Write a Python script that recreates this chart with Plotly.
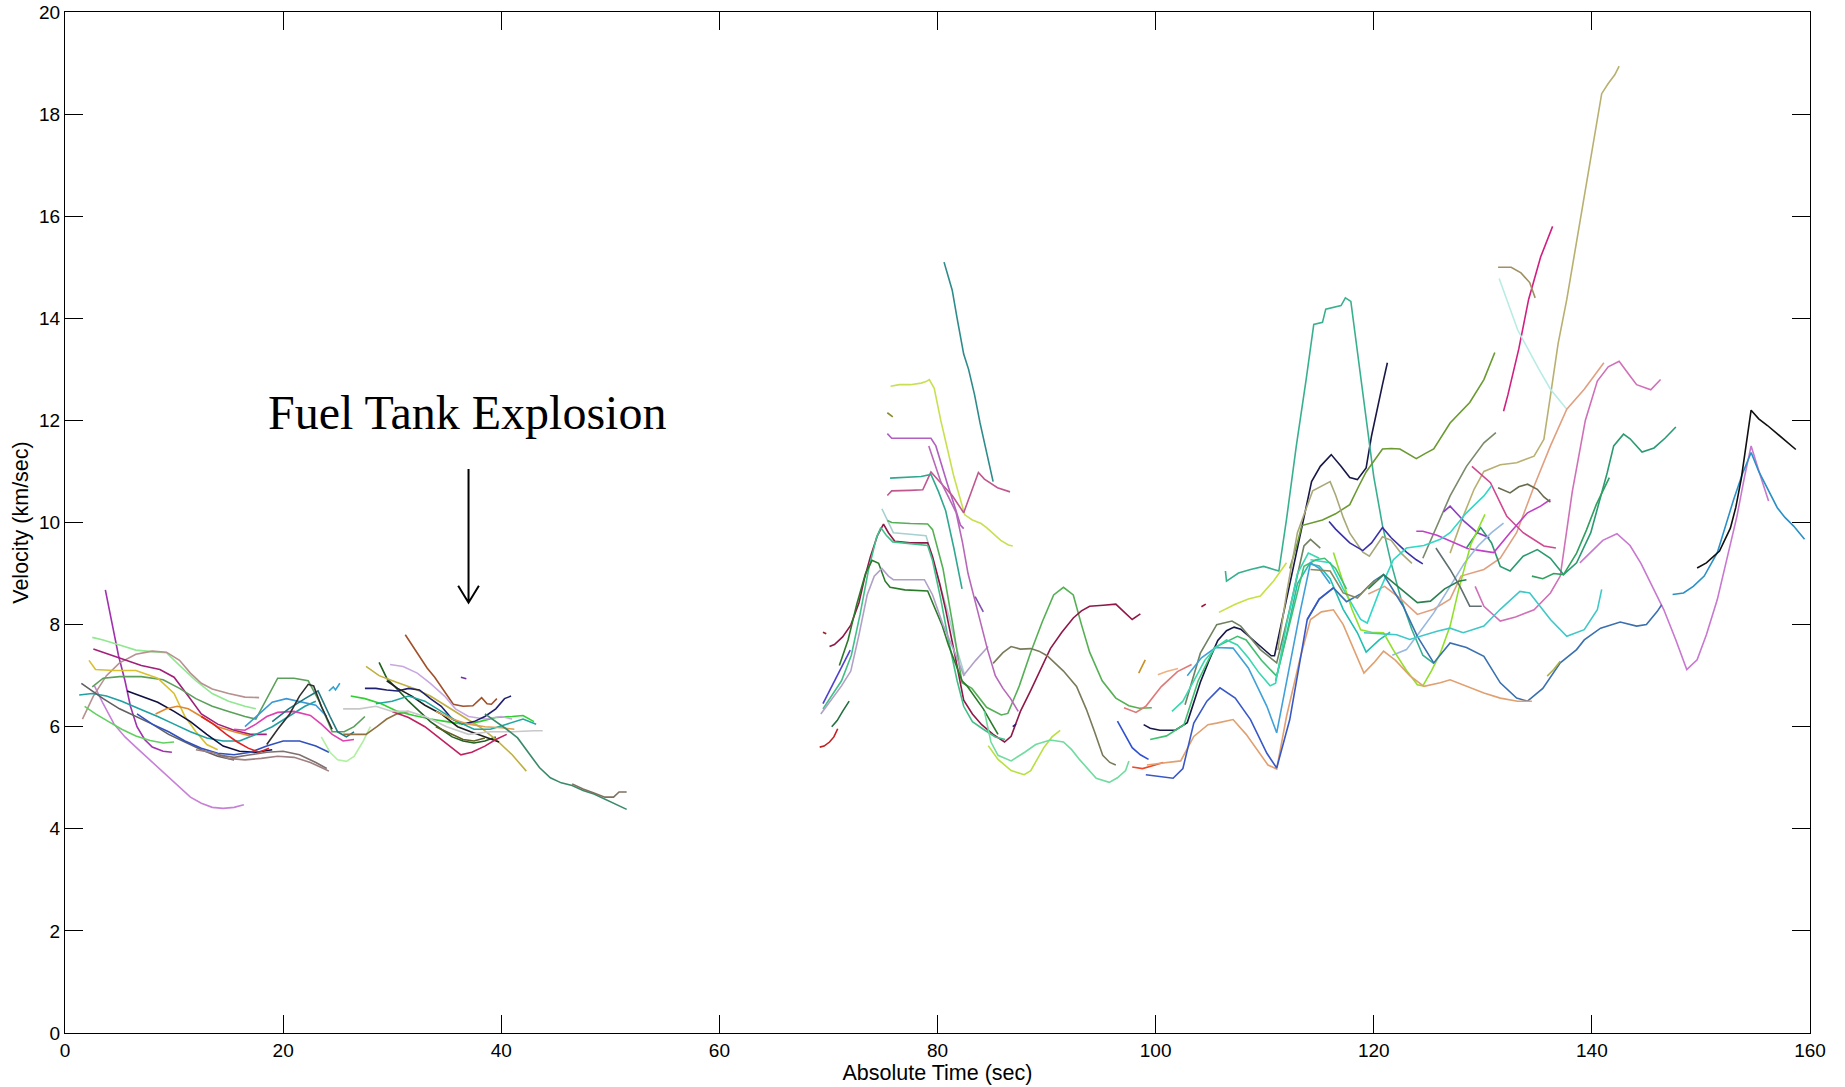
import plotly.graph_objects as go

# ---------------- data: each track is a list of [time (s), velocity (km/s)] ----------------
early_tracks = [
    [[3.7,8.68],[4.3,8.0],[4.9,7.4],[5.5,6.9],[6.0,6.4],[6.6,6.0],[7.3,5.75],[8.0,5.6],[9.0,5.52],[9.8,5.5]],
    [[2.7,6.8],[3.5,6.45],[4.5,6.05],[5.5,5.8],[6.5,5.6],[7.5,5.4],[8.5,5.2],[9.5,5.0],[10.5,4.8],[11.5,4.62],[12.5,4.5],[13.5,4.42],[14.5,4.4],[15.5,4.42],[16.4,4.47]],
    [[2.5,7.75],[3.5,7.7],[5,7.6],[6.5,7.5],[8,7.47],[9.3,7.45],[10.5,7.2],[12,6.9],[13.5,6.65],[15,6.5],[16.5,6.4],[17.5,6.35]],
    [[1.6,6.15],[2.6,6.6],[3.8,7.0],[5,7.25],[6.5,7.42],[8,7.48],[9.3,7.46],[10.5,7.3],[11.5,7.05],[12.5,6.85],[13.5,6.74],[15,6.65],[16.5,6.58],[17.8,6.57]],
    [[2.6,7.52],[4,7.42],[5.5,7.3],[7,7.2],[8.7,7.12],[10,6.97],[11.3,6.6],[12.5,6.25],[14,6.05],[15.5,5.93],[17,5.85],[18.5,5.85]],
    [[2.5,6.78],[3.5,6.95],[5,6.98],[7,6.98],[9,6.92],[10.5,6.75],[12,6.55],[13.5,6.4],[15,6.3],[16.5,6.2],[17.5,6.15],[18.5,6.55],[19.5,6.95],[21,6.95],[22.3,6.9],[23.3,6.5],[24.5,5.9],[25.6,5.9],[26.5,6.0],[27.5,6.2]],
    [[2.2,7.3],[2.8,7.12],[4.5,7.1],[6.5,7.1],[8.5,6.95],[10,6.65],[11,6.2],[12,5.9],[13,5.65],[14,5.55]],
    [[1.3,6.62],[2.5,6.65],[3.8,6.6],[5.2,6.5],[6.8,6.35],[8.5,6.2],[10,6.05],[11.5,5.9],[13,5.78],[14.5,5.72],[16,5.72],[17.5,5.85],[19,6.0],[20.5,6.2],[22,6.4],[23,6.5]],
    [[1.5,6.85],[2.5,6.7],[3.5,6.55],[5,6.35],[6.5,6.2],[8,6.05],[9.5,5.85],[11,5.7],[12.5,5.55],[14,5.42],[15.5,5.35]],
    [[1.8,6.4],[2.8,6.25],[4,6.1],[5.2,5.95],[6.5,5.82],[7.8,5.73],[9,5.68],[10,5.7]],
    [[5.7,6.7],[7,6.6],[8.5,6.48],[10,6.3],[11.5,6.1],[13,5.85],[14.5,5.62],[16,5.52],[17.5,5.5],[19,5.55]],
    [[6.6,6.25],[8,6.05],[9.5,5.9],[11,5.72],[12.5,5.58],[14,5.48],[15.5,5.45],[17,5.5],[18.5,5.62],[20,5.72],[21.5,5.72],[23,5.62],[24.2,5.5]],
    [[8.3,6.25],[9.3,6.35],[10.3,6.4],[11.3,6.35],[12.5,6.2],[14,6.0],[15.5,5.9],[17,5.82]],
    [[12.5,6.2],[13.6,6.05],[14.8,5.85],[15.8,5.7],[16.8,5.58],[17.8,5.5],[18.7,5.58]],
    [[15.5,5.95],[16.5,5.93],[17.5,6.05],[18.5,6.2],[19.5,6.28],[21,6.3],[22.5,6.22],[23.5,6.05],[24.5,5.85],[25.5,5.72],[26.5,5.75]],
    [[16.5,6.0],[17.8,6.25],[19,6.48],[20.3,6.55],[21.8,6.48],[23,6.42],[24,6.2]],
    [[19,6.1],[20.5,6.35],[22,6.55],[23.2,6.7],[24.3,6.2],[25,5.9],[25.8,5.8],[26.5,5.9]],
    [[18.5,5.65],[19.5,5.95],[20.6,6.25],[21.5,6.6],[22.3,6.83],[22.8,6.8],[23.5,6.4],[24.5,5.95]],
    [[23.5,5.8],[24.3,5.5],[25,5.35],[25.8,5.32],[26.5,5.42],[27.3,5.7],[28,6.0]],
    [[12,5.55],[13.6,5.49],[15,5.38],[16.5,5.35],[18,5.38],[19.5,5.42],[21,5.4],[22.5,5.3],[23.5,5.2],[24.2,5.13]],
    [[14,5.45],[15.5,5.4],[17,5.45],[18.5,5.5],[20,5.52],[21.5,5.45],[23,5.3],[24,5.18]],
    [[25.5,5.85],[26.5,5.85],[27.6,5.85],[28.6,6.0],[29.5,6.15],[30.4,6.25],[31.5,6.3]],
    [[26.2,6.6],[27.5,6.55],[29,6.45],[30.5,6.3],[32,6.22],[33.5,6.15],[35,6.1],[36.5,6.05],[38,6.1],[39.5,6.18],[41,6.2],[42,6.22],[43,6.1]],
    [[28.8,7.26],[29.5,6.95],[30.4,6.75],[31.5,6.5],[32.5,6.3],[33.5,6.1],[34.5,5.95],[35.5,5.8],[36.5,5.72],[37.5,5.68],[38.5,5.72],[39.5,5.8]],
    [[27.6,7.18],[28.8,7.0],[30.4,6.87],[32,6.75],[33.5,6.6],[35,6.4],[36.5,6.2],[38,6.0],[39.5,5.75],[41,5.45],[42.3,5.13]],
    [[31.2,7.8],[31.8,7.6],[32.5,7.36],[33.2,7.15],[33.9,6.97],[34.6,6.75],[35.6,6.44],[36.5,6.4],[37.4,6.41],[38.2,6.57],[38.7,6.45],[39.1,6.44],[39.6,6.55]],
    [[29.8,7.22],[31,7.18],[32.3,7.05],[33.5,6.85],[34.8,6.6],[35.8,6.35],[37,6.2],[38.5,6.15],[40,6.2],[41,6.15]],
    [[27.5,6.75],[28.5,6.75],[29.5,6.72],[30.5,6.7],[31.5,6.75],[32.5,6.72],[33.5,6.55],[34.5,6.4],[35.5,6.15],[36.5,6.05],[37.5,6.1],[38.5,6.2],[39.5,6.35],[40.3,6.55],[40.9,6.6]],
    [[29.5,6.9],[30.5,6.75],[31.8,6.6],[33,6.42],[34.5,6.25],[36,6.0],[37.2,5.9],[38.3,5.82],[39.8,5.7]],
    [[30,6.3],[31.5,6.18],[33,6.0],[34.5,5.75],[35.6,5.55],[36.3,5.45],[37.3,5.5],[38.5,5.62],[39.5,5.75],[40.5,5.85]],
    [[28.5,6.45],[30,6.5],[31.5,6.6],[33,6.5],[34.5,6.3],[36,6.1],[37.5,5.95],[39,5.95],[40.5,6.05],[42,6.15],[43.2,6.05]],
    [[25.5,6.35],[27,6.35],[28.5,6.4],[30,6.3],[31.5,6.3],[33,6.2],[35,6.0],[37,5.85],[39,5.9],[41,5.9],[43,5.92],[43.8,5.92]],
    [[34,6.3],[35.5,6.15],[37,6.05],[38.5,6.0],[40,5.98],[41.2,5.95]],
    [[34,6.0],[35.5,5.85],[36.5,5.75],[37.5,5.72],[38.5,5.78]],
    [[38.5,6.25],[39.5,6.1],[40.5,5.95],[41.5,5.78],[42.5,5.5],[43.5,5.2],[44.5,5.0],[45.5,4.9],[46.5,4.85],[47.5,4.75],[48.5,4.68],[49.5,4.58],[50.5,4.47],[51.5,4.38]],
    [[46.5,4.88],[47.5,4.78],[48.5,4.7],[49.5,4.62],[50.3,4.62],[50.8,4.72],[51.5,4.72]],
    [[36.3,6.97],[36.8,6.94]],
    [[24.2,6.7],[24.6,6.78],[24.8,6.72],[25.2,6.85]],
]
early_colors = [
    "#a030b0", "#c880d8", "#90e890", "#b89090", "#a0207a", "#5aa05a", "#d8c030", "#20a0a0",
    "#606060", "#60d060", "#101040", "#3050c0", "#e08830", "#e02020", "#e040b0", "#3a98d8",
    "#207880", "#303030", "#b0f0a0", "#a08080", "#807070", "#907040", "#30d030", "#206020",
    "#c0b040", "#a0502a", "#c8a8e0", "#202070", "#202020", "#c02060", "#20a8a0", "#c8c8c8",
    "#e0a050", "#606020", "#3a8a6a", "#807060", "#7030a0", "#30a0d0",
]

mid_tracks = [
    [[80.6,15.1],[81.0,14.8],[81.35,14.55],[81.8,14.0],[82.4,13.3],[82.85,13.0],[83.4,12.5],[83.9,11.95],[84.5,11.35],[85.1,10.8]],
    [[75.7,12.67],[76.5,12.7],[77.5,12.7],[78.5,12.73],[78.95,12.76],[79.25,12.8],[79.7,12.63],[80.3,12.0],[80.9,11.45],[81.5,10.9],[82.1,10.45],[82.5,10.15],[83.2,10.05],[84,9.98],[84.5,9.9],[85,9.8],[85.8,9.65],[86.5,9.56],[86.9,9.54]],
    [[75.4,12.15],[75.9,12.07]],
    [[75.4,11.74],[75.8,11.65],[77,11.65],[78.5,11.65],[79.4,11.65],[79.85,11.5],[80.4,11.1],[80.9,10.76],[81.6,10.3],[82.1,9.95],[82.4,9.88]],
    [[75.4,10.53],[75.8,10.62],[77.5,10.63],[78.65,10.64],[79.1,10.85],[79.4,10.99],[80.2,10.8],[81.35,10.53],[82.4,10.19],[83.1,10.6],[83.75,10.98],[84.3,10.85],[84.8,10.78],[85.5,10.68],[86.65,10.6]],
    [[75.65,10.87],[77,10.88],[78.5,10.9],[79.4,10.94],[80.1,10.6],[80.75,10.23],[81.5,9.5],[82.25,8.7]],
    [[74.9,10.27],[75.35,10.08],[75.95,9.8],[77.5,9.77],[78.95,9.74],[79.4,9.41],[80.2,8.8],[81.0,8.2],[81.8,7.5],[82.5,7.0]],
    [[75.4,10.04],[75.8,10.0],[77.5,9.98],[79.1,9.97],[79.55,9.86],[80.5,9.1],[81.4,8.0],[82.25,6.86],[83.15,6.75],[84.5,6.38],[85.85,6.23],[86.45,6.26],[87.5,6.8],[88.55,7.46],[89.6,8.05],[90.65,8.58],[91.55,8.73],[92.45,8.58],[93.2,8.0],[93.95,7.46],[95.1,6.9],[96.35,6.56],[97.55,6.41],[98.5,6.36],[99.65,6.37]],
    [[70.1,7.57],[70.55,7.61],[71.3,7.76],[72.05,7.99],[72.8,8.43],[73.3,8.9],[73.85,9.33],[74.5,9.75],[75.05,9.97],[75.5,9.8],[76.1,9.63],[77.5,9.6],[79.1,9.6],[79.55,9.33],[80.2,8.8],[80.75,8.29],[81.6,7.4],[82.4,6.52],[83.2,6.25],[84.05,6.04],[85.1,5.85],[86.15,5.7],[86.75,5.81],[87.6,6.3],[88.55,6.71],[89.5,7.15],[90.35,7.53],[91.4,7.85],[92.45,8.13],[93.2,8.27],[93.95,8.36],[95.2,8.38],[96.35,8.4],[97.1,8.25],[97.85,8.1],[98.6,8.21]],
    [[69.5,6.35],[70.3,6.6],[71.2,6.9],[72.1,7.4],[72.9,8.2],[73.7,9.1],[74.4,9.7],[74.8,9.9],[75.3,9.75],[75.9,9.62],[77.5,9.58],[79.1,9.55],[79.55,9.25],[80.3,8.5],[81.0,7.7],[81.8,6.9],[82.4,6.4],[83.2,6.1],[84.2,5.95],[85.3,5.8],[86.2,5.75]],
    [[71.0,7.2],[71.8,7.7],[72.6,8.4],[73.4,9.0],[74.0,9.26],[74.6,9.2],[75.2,8.85],[75.65,8.73],[77,8.68],[79.1,8.66],[79.8,8.3],[80.4,8.0],[81,7.6],[82.25,6.9],[82.7,6.8],[83.2,6.65],[84.2,6.35],[85.0,6.05],[85.55,5.85]],
    [[69.3,6.25],[70.3,6.55],[71.2,6.8],[72.05,7.09],[72.8,7.8],[73.55,8.58],[74.2,8.95],[74.9,9.1],[75.5,8.95],[75.95,8.88],[77.5,8.88],[78.8,8.88],[79.55,8.58],[80.5,8.0],[81.5,7.5],[82.4,7.01],[83.5,7.3],[84.65,7.57]],
    [[69.5,7.85],[69.8,7.82]],
    [[69.2,5.6],[69.6,5.62],[70.1,5.7],[70.5,5.8],[70.85,5.96]],
    [[70.3,6.0],[70.8,6.12],[71.3,6.3],[71.9,6.5]],
    [[69.5,6.45],[70.2,6.75],[70.9,7.05],[71.5,7.3],[72.0,7.5]],
    [[79.2,11.5],[79.8,11.1],[80.3,10.8],[81.0,10.5],[81.7,10.2],[82.3,9.6],[82.8,9.0],[83.4,8.5],[84.0,8.0],[84.6,7.5],[85.3,7.0],[86.0,6.75],[86.7,6.55],[87.4,6.3]],
    [[83.45,8.55],[83.8,8.4],[84.2,8.25]],
    [[84.65,5.63],[85.55,5.36],[86.75,5.14],[87.95,5.06],[88.55,5.14],[89.2,5.4],[89.75,5.59],[90.5,5.8],[91.25,5.93]],
    [[84.3,6.3],[84.9,5.7],[85.55,5.44],[86.75,5.33],[88,5.5],[89,5.65],[90.35,5.74],[91.55,5.7],[92.3,5.55],[93.05,5.35],[94.55,4.99],[95.75,4.91],[96.5,5.0],[97.25,5.14],[97.55,5.33]],
    [[85.1,7.24],[86,7.45],[86.75,7.57],[87.6,7.52],[88.55,7.53],[89.3,7.48],[90.05,7.39],[91.55,7.09],[92.75,6.79],[93.65,6.34],[94.4,5.9],[95.15,5.44],[95.8,5.3],[96.35,5.25]],
    [[86.9,6.0],[87.2,6.05]],
]
mid_colors = [
    "#2e8b8b", "#c8e050", "#8a8a30", "#b060c0", "#c05890", "#30a890", "#a8d0d0", "#55b055",
    "#901848", "#40c088", "#2a7a2a", "#b0a0c8", "#a02020", "#c02020", "#207040", "#5040d0",
    "#b868b8", "#8050b0", "#b8e040", "#70dca0", "#7a7a5a", "#202080",
]

late_tracks = [
    [[97.1,6.37],[98.2,6.28],[99.1,6.4],[100.5,6.78],[102,7.08],[103.3,7.22]],
    [[98.45,7.05],[98.8,7.2],[99.05,7.31]],
    [[96.5,6.11],[97.25,5.81],[97.85,5.59],[98.6,5.45],[99.35,5.36]],
    [[97.85,5.21],[98.8,5.18],[99.95,5.25],[100.7,5.3]],
    [[98.9,6.04],[99.5,5.97],[100.4,5.93],[101.8,5.93],[102.9,6.08],[103.5,6.5],[104.1,6.87],[104.9,7.3],[105.7,7.69],[106.5,7.88],[107.2,7.95],[107.8,7.91],[109.2,7.65],[110.6,7.39],[110.9,7.39],[111.8,8.3],[112.7,9.2],[113.6,10.06],[114.3,10.8],[115.1,11.1],[116.1,11.33],[117,11.1],[117.8,10.88],[118.5,10.84],[119.3,11.07],[119.8,11.7],[120.2,12.12],[120.8,12.7],[121.25,13.13]],
    [[106.4,9.05],[106.5,8.85],[107.6,9.01],[108.7,9.08],[109.9,9.14],[111.3,9.05],[112.0,10.06],[112.9,11.5],[113.8,12.8],[114.5,13.88],[115.3,13.92],[115.6,14.18],[117.0,14.25],[117.4,14.4],[117.9,14.33],[118.6,13.2],[119.3,11.97],[120.0,10.9],[120.8,9.94],[121.6,9.2],[122.5,8.5],[123.5,7.9],[124.5,7.4],[125.5,7.24]],
    [[112.3,9.1],[113.0,9.6],[113.4,9.94],[114.1,9.98],[115.3,10.05],[116.5,10.17],[117.8,10.35],[118.6,10.7],[119.3,10.99],[120.8,11.44],[121.6,11.45],[122.4,11.44],[123.9,11.25],[124.7,11.35],[125.5,11.44],[127.0,11.95],[128.8,12.35],[130.1,12.8],[131.1,13.33]],
    [[111.2,7.5],[112,8.6],[113,9.8],[114.4,10.62],[116.0,10.8],[116.5,10.54],[117.2,10.1],[117.8,9.79],[119.0,9.42],[119.6,9.34],[120.8,9.72],[121.6,9.65],[122.5,9.4],[123.5,9.2]],
    [[127.0,9.4],[128.2,10.12],[129.2,10.65],[130.1,11.0],[131.6,11.13],[133.1,11.17],[134.7,11.3],[135.6,11.63],[136.2,12.48],[136.9,13.5],[137.7,14.37],[138.6,15.5],[139.6,16.8],[140.5,17.9],[140.9,18.4],[141.5,18.6],[142.1,18.77],[142.5,18.94]],
    [[124.5,9.3],[125.5,9.8],[127.0,10.52],[128.5,11.1],[130.1,11.56],[131.2,11.76]],
    [[131.9,12.18],[132.3,12.5],[133.3,13.4],[134.2,14.37],[135.3,15.2],[136.4,15.8]],
    [[131.5,14.78],[132.2,14.37],[133.2,13.77],[135.1,13.02],[136.2,12.61],[137.7,12.22]],
    [[131.4,15.0],[132.6,15.0],[133.5,14.89],[134.3,14.7],[134.8,14.4]],
    [[119.5,8.6],[121,8.75],[122.5,8.5],[124,8.2],[125.5,8.3],[127,8.5],[128.0,8.95],[130.1,9.08],[131.6,9.3],[133.1,9.8],[134.7,10.71],[136.2,11.5],[137.7,12.22],[139.3,12.61],[141.1,13.13]],
    [[129.3,8.75],[130.1,8.36],[131.6,8.07],[133.0,8.15],[134.7,8.29],[136.2,8.62],[137.1,8.95],[138.2,10.6],[139.4,12.0],[140.5,12.77],[141.5,13.05],[142.5,13.16],[143.5,12.87],[144.1,12.7],[145.4,12.6],[146.3,12.8]],
    [[138.9,9.21],[139.8,9.4],[141,9.65],[142.3,9.78],[143.5,9.55],[144.5,9.2],[145.4,8.82],[146.6,8.29],[147.7,7.7],[148.7,7.12],[149.65,7.31],[150.5,7.8],[151.5,8.49],[152.4,9.3],[153.3,10.12],[154.0,10.9],[154.6,11.5],[155.4,10.95],[156.2,10.42]],
    [[128.5,9.5],[129.8,9.9],[130.8,9.6],[131.6,9.14],[132.5,9.05],[133.7,9.34],[135.0,9.47],[136.2,9.3],[137.4,8.98],[138.6,9.21],[139.9,9.8],[140.8,10.5],[141.4,10.97],[142.0,11.5],[142.9,11.73],[143.5,11.64],[144.6,11.38],[145.7,11.46],[146.7,11.65],[147.7,11.87]],
    [[134.5,8.95],[135.5,8.9],[136.5,9.0],[137.4,8.98],[138.6,9.4],[139.5,9.85],[140.4,10.35],[141.0,10.6],[141.6,10.88]],
    [[129.0,11.1],[130.7,10.78],[132.2,10.12],[133.7,9.8],[135.6,9.54],[136.7,9.5]],
    [[123.9,9.83],[124.5,9.83],[125.8,9.75],[127,9.64],[128.6,9.49],[130.1,9.44],[131.0,9.41],[132.5,9.8],[134.1,10.19],[135.3,10.32],[136.2,10.45]],
    [[115.9,10.02],[116.5,9.87],[117.8,9.6],[119.0,9.45],[119.8,9.6],[120.8,9.9],[121.6,9.7],[123.0,9.42],[123.9,9.27],[124.5,9.19]],
    [[126.4,10.21],[127.0,10.32],[128.3,10.02],[129.5,9.8],[130.6,9.7]],
    [[114.2,9.27],[116.0,9.21],[117.2,8.7],[118.8,8.1],[119.4,8.03],[120.6,8.7],[121.8,9.27],[123.0,9.5],[124.6,9.55],[126.1,9.67],[127.0,9.8],[128.5,10.19],[130.1,10.52],[130.8,10.72]],
    [[111.0,6.9],[112.0,7.8],[113.0,8.8],[114.1,9.19],[115,9.15],[116,8.9],[117.2,8.3],[118.5,7.84],[119.3,7.46],[120.5,7.7],[121.5,7.85]],
    [[121.7,7.4],[123.0,7.51],[124.2,7.85],[125.5,8.23],[127.0,8.75],[128.3,9.2],[129.6,9.55],[130.8,9.8],[131.9,9.99]],
    [[116.3,9.41],[117.2,8.8],[118.0,8.3],[118.8,7.9],[119.8,7.85],[120.9,7.84],[121.8,7.5],[123.0,7.1],[124.0,6.82],[124.5,6.8],[125.3,7.1],[126.1,7.44],[127.0,7.97],[127.8,8.7],[128.9,9.57],[130.2,10.16]],
    [[113.9,8.1],[115,8.5],[116.3,8.72],[117.5,8.45],[118.8,8.6],[120.0,8.85],[120.9,8.98],[122.0,8.6],[122.7,8.36],[124.0,7.77],[125.5,7.25],[127.0,7.64],[128.5,7.55],[130.1,7.38],[131.6,6.86],[133.1,6.56],[134.1,6.5],[135.5,6.75],[137.1,7.25],[138.6,7.51],[139.3,7.7],[140.8,7.93],[142.6,8.05],[144.1,7.97],[145.0,8.0],[146.0,8.26],[146.4,8.39]],
    [[99.2,5.25],[100.5,5.28],[102.3,5.33],[103.5,5.81],[104.8,6.04],[105.6,6.07],[107.1,6.14],[108.3,5.85],[109.5,5.5],[110.3,5.25],[111.1,5.17],[112.0,6.2],[113.2,7.3],[114.2,8.1],[115.2,8.25],[116.3,8.29],[117.2,8.0],[118.0,7.6],[119.1,7.05],[120.0,7.25],[120.9,7.48],[122.0,7.3],[123.3,7.0],[124.6,6.79],[126.1,6.86],[127.0,6.92],[128.5,6.8],[130.1,6.66],[131.6,6.56],[133.2,6.5],[134.5,6.5]],
    [[135.9,6.99],[136.5,7.12],[137.1,7.28]],
    [[102.7,6.43],[104.1,7.44],[105.6,8.0],[107.0,8.07],[107.8,7.97],[109.6,7.51],[111.1,7.25],[112.3,8.3],[113.6,9.54],[114.2,9.67],[115.1,9.5]],
    [[99.5,5.75],[101,5.82],[102.6,6.04],[103.9,6.9],[105.4,7.55],[107.5,7.77],[108.3,7.7],[109.7,7.3],[111.1,6.99],[112.3,8.0],[113.6,9.14],[114.7,9.27],[115.5,9.3],[116.5,9.1],[117.5,8.7]],
    [[102.9,7.0],[104.2,7.35],[105.5,7.55],[107.1,7.54],[108.5,7.15],[110.2,6.4],[111.1,5.88],[112.0,6.9],[113.2,8.2],[114.2,9.21],[115,9.1],[116,8.8]],
    [[99.1,5.06],[100.4,5.03],[101.6,4.99],[102.5,5.18],[103.5,6.07],[104.7,6.5],[105.9,6.76],[107.3,6.56],[108.7,6.14],[110.2,5.48],[111.1,5.19],[112.3,6.14],[113.9,8.1],[115,8.5],[116.3,8.72]],
    [[101.5,6.3],[102.5,6.5],[103.5,6.9],[104.5,7.3],[105.5,7.55],[106.5,7.7],[107.5,7.6],[108.5,7.35],[109.5,7.05],[110.5,6.8],[111,6.85],[112,8.0],[113,9.0],[114,9.4],[115,9.3]],
    [[105.8,8.24],[107.3,8.4],[108.5,8.5],[109.6,8.56],[110.8,8.85],[112.0,9.21]],
    [[104.2,8.35],[104.6,8.4]],
    [[100.2,7.02],[101,7.08],[102.05,7.14]],
    [[119.1,7.84],[120.5,7.82],[122.1,7.8],[123.3,7.71],[124.6,7.8],[125.8,7.87],[127.0,7.93],[128.2,7.84],[130.1,7.97],[131.6,8.3],[133.4,8.65],[134.3,8.62],[136.2,8.1],[137.7,7.77],[139.3,7.9],[140.5,8.29],[140.9,8.69]],
    [[147.4,8.59],[148.4,8.62],[149.3,8.75],[150.3,8.95],[151.5,9.41],[152.2,9.9],[153.0,10.45],[153.8,10.95],[154.6,11.37],[155.3,11.0],[156.1,10.65],[157.0,10.29],[157.7,10.1],[158.5,9.93],[159.5,9.67]],
    [[149.65,9.11],[150.5,9.21],[151.7,9.44],[152.7,9.89],[153.2,10.3],[153.7,10.86],[154.6,12.2],[155.3,12.03],[156.1,11.9],[156.9,11.76],[157.8,11.6],[158.7,11.43]],
    [[119.5,8.7],[120.9,8.98],[122.2,8.75],[124.0,8.43],[125.2,8.46],[126.5,8.7],[127.8,8.85],[128.5,8.88]],
    [[125.7,9.5],[127.0,9.08],[127.9,8.75],[128.8,8.36],[129.9,8.36]],
    [[131.4,10.68],[132.5,10.58],[133.3,10.7],[134.1,10.75],[135.0,10.65],[135.6,10.5],[136.2,10.4]],
    [[114.2,9.08],[116.0,9.05],[117.2,8.62],[118.5,8.52],[119.5,8.75],[120.3,8.88]],
]
late_colors = [
    "#e07878", "#c89020", "#3050d0", "#f04828", "#181848", "#38b090", "#6a9a30", "#a8a878",
    "#b8b070", "#7a8a6a", "#d02080", "#b8ece4", "#a09060", "#e0a080", "#d070b8", "#c878d0",
    "#2a9a70", "#30a060", "#d04890", "#c040c8", "#3a30a8", "#8a40c0", "#30d8c8", "#20c0b0",
    "#98b8e0", "#90e028", "#3a70b0", "#e0a070", "#b0b040", "#708060", "#40c070", "#40a0d8",
    "#3858c8", "#38d8b0", "#c8e040", "#a01030", "#f0b080", "#40c8c8", "#2a90c8", "#101010",
    "#2a8050", "#607070", "#6a6a50", "#8a8a60",
]

x_ticks = [0, 20, 40, 60, 80, 100, 120, 140, 160]
y_ticks = [0, 2, 4, 6, 8, 10, 12, 14, 16, 18, 20]

annotation_text = "Fuel Tank Explosion"
annotation_pos = (36.9, 12.15)
arrow_x, arrow_top, arrow_tip = 37.0, 11.05, 8.43

# ---------------- figure ----------------
fig = go.Figure()
for tracks, colors in ((early_tracks, early_colors), (mid_tracks, mid_colors), (late_tracks, late_colors)):
    for pts, col in zip(tracks, colors):
        fig.add_trace(go.Scatter(
            x=[p[0] for p in pts], y=[p[1] for p in pts],
            mode="lines", line=dict(color=col, width=1.6),
            showlegend=False, hoverinfo="skip",
        ))

fig.add_annotation(
    x=annotation_pos[0], y=annotation_pos[1], xref="x", yref="y",
    text=annotation_text, showarrow=False, xanchor="center", yanchor="middle",
    font=dict(family="Liberation Serif, Times New Roman, serif", size=48, color="black"),
)
head_dx, head_dy = 0.95, 0.33
fig.add_shape(
    type="path", xref="x", yref="y",
    path=(f"M {arrow_x},{arrow_top} L {arrow_x},{arrow_tip} "
          f"M {arrow_x-head_dx},{arrow_tip+head_dy} L {arrow_x},{arrow_tip} L {arrow_x+head_dx},{arrow_tip+head_dy}"),
    line=dict(color="black", width=2),
)

fig.update_layout(
    width=1845, height=1087,
    margin=dict(l=65, r=35, t=12, b=54),
    plot_bgcolor="white", paper_bgcolor="white",
    font=dict(family="Liberation Sans, Arial, sans-serif", size=19, color="black"),
    showlegend=False,
)
axis_common = dict(
    ticks="inside", ticklen=18, tickwidth=1, tickcolor="black",
    showline=True, linecolor="black", linewidth=1, mirror="allticks",
    showgrid=False, zeroline=False, automargin=False,
    tickfont=dict(size=19, color="black"),
)
fig.update_xaxes(range=[0, 160], tickvals=x_ticks, ticktext=[str(v) for v in x_ticks],
                 title=dict(text="Absolute Time (sec)", font=dict(size=21.5), standoff=2), **axis_common)
fig.update_yaxes(range=[0, 20], tickvals=y_ticks, ticktext=[str(v) for v in y_ticks],
                 title=dict(text="Velocity (km/sec)", font=dict(size=21.5), standoff=4), **axis_common)

fig.write_html("out.html")
